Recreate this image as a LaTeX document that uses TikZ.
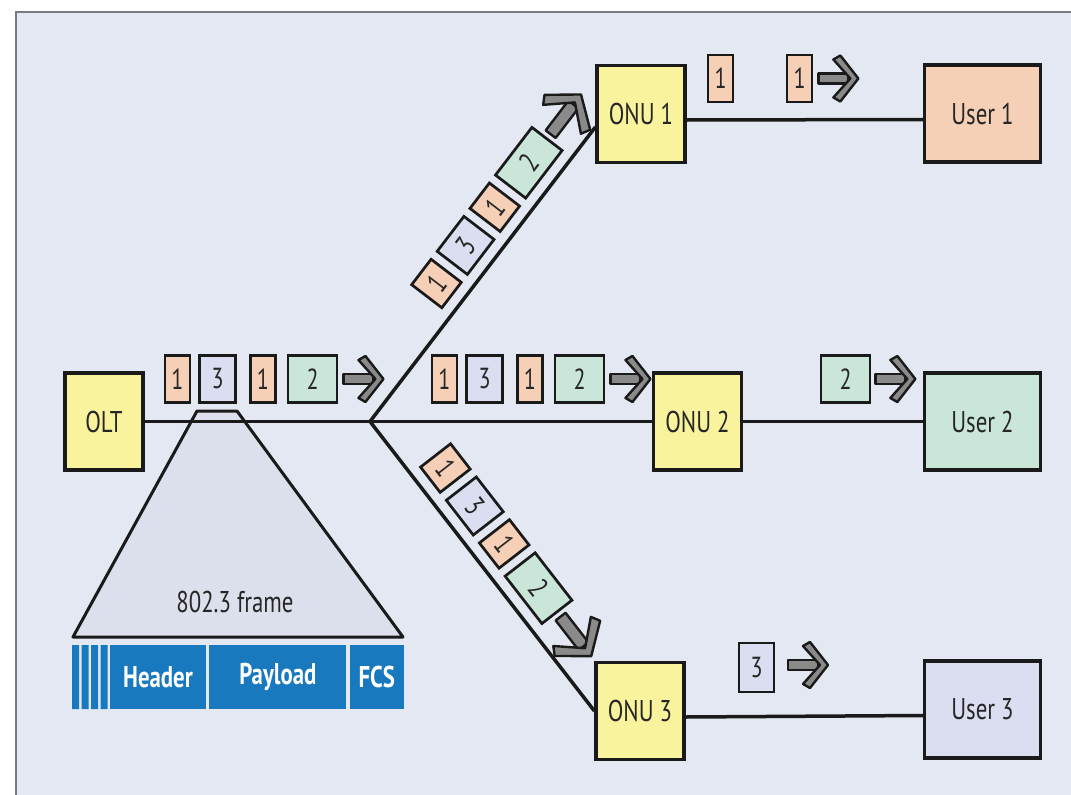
\documentclass[tikz,border=0pt]{standalone}
\usepackage{fontspec}
\setmainfont{PT Sans}[FakeStretch=0.76]
\usetikzlibrary{positioning}
\definecolor{ink}{HTML}{1A1A1A}
\definecolor{txt}{HTML}{262626}
\definecolor{panel}{HTML}{E4E8F2}
\definecolor{rim}{HTML}{7A7A7A}
\definecolor{lemon}{HTML}{FAF39D}
\definecolor{peach}{HTML}{F5CFB6}
\definecolor{mint}{HTML}{C9E6D8}
\definecolor{lilac}{HTML}{DADEF0}
\definecolor{framefill}{HTML}{DCDFEC}
\definecolor{barblue}{HTML}{1879BE}
\definecolor{arrowgray}{HTML}{8A8A8A}
\newcommand\boxfont{\fontsize{30}{32}\selectfont}
\newcommand\pktfont{\fontsize{29}{31}\selectfont}
\tikzset{
  unit/.style={draw=ink,line width=3.2pt,fill=lemon,minimum width=88,
    minimum height=97,inner sep=0pt,font=\boxfont,text=txt},
  pkt/.style={draw=ink,line width=2.7pt,minimum height=47,inner sep=0pt,
    font=\pktfont,text=txt},
  pa/.style={pkt,fill=peach,minimum width=25},
  pb/.style={pkt,fill=mint,minimum width=49},
  pc/.style={pkt,fill=lilac,minimum width=36},
  da/.style={pa,minimum width=32,minimum height=38},
  db/.style={pb,minimum width=60,minimum height=38},
  dc/.style={pc,minimum width=44,minimum height=38},
  link/.style={draw=ink,line width=3.5pt},
  arw/.style={fill=arrowgray,draw=ink,line width=2.4pt,line join=round},
  fwd/.pic={
    \path[arw] (0,-5) rectangle (30,5);
    \path[arw] (22,-23) -- (40,0) -- (22,23) -- (15,19) -- (32,0) -- (15,-19) -- cycle;
  },
  field/.style={fill=barblue,text=white,font=\boxfont\bfseries,
    minimum height=64,inner sep=0pt}
}
\begin{document}
\begin{tikzpicture}[x=1pt,y=-1pt]
  \useasboundingbox (0,0) rectangle (1071,795);
  \fill[panel] (16,12) rectangle (1080,800);
  \draw[rim,line width=2.5pt] (16,800) -- (16,12) -- (1080,12);

  % frame under the feeder
  \draw[ink,line width=3pt,fill=framefill,line join=round]
    (197,411) -- (237,411) -- (403,637) -- (73,637) -- cycle;
  \node[font=\boxfont,text=txt] (frm) at (235,602) {802.3 frame};
  \fill[barblue] (72,645) rectangle ++(7,64) (81.5,645) rectangle ++(7,64)
    (91,645) rectangle ++(7,64) (100.5,645) rectangle ++(7,64);
  \node[field,minimum width=96] (hdr) at (158,677) {Header};
  \node[field,minimum width=137,right=3pt of hdr] (pay) {Payload};
  \node[field,minimum width=54,right=3pt of pay] (fcs) {FCS};

  % boxes
  \node[unit,minimum width=78] (olt) at (104,421.5) {OLT};
  \node[unit] (onu1) at (641,114) {ONU 1};
  \node[unit] (onu2) at (697.5,421.5) {ONU 2};
  \node[unit] (onu3) at (640,711) {ONU 3};
  \node[unit,fill=peach,minimum width=116] (usr1) at (982.5,113.5) {User 1};
  \node[unit,fill=mint,minimum width=116] (usr2) at (982.5,421.5) {User 2};
  \node[unit,fill=lilac,minimum width=116] (usr3) at (982.5,709.5) {User 3};
  \coordinate (split) at (370,421.5);

  \path[link] (olt) -- (split);
  \path[link] (split) -- ([yshift=-13pt]onu1.west);
  \path[link] (split) -- (onu2);
  \path[link] (split) -- (onu3.west);
  \path[link] ([yshift=-6pt]onu1.east) -- ([yshift=-6pt]usr1.west);
  \path[link] (onu2) -- (usr2);
  \path[link] ([yshift=-6pt]onu3.east) -- ([yshift=-6pt]usr3.west);

  % downstream frames
  \node[pa] (h1) at (177.5,379) {1};
  \node[pc,right=7pt of h1] (h2) {3};
  \node[pa,right=12pt of h2] (h3) {1};
  \node[pb,right=10pt of h3] (h4) {2};
  \pic at ([xshift=5pt]h4.east) {fwd};

  \node[pa] (m1) at (444.5,379) {1};
  \node[pc,right=7pt of m1] (m2) {3};
  \node[pa,right=12pt of m2] (m3) {1};
  \node[pb,right=10pt of m3] (m4) {2};
  \pic at ([xshift=5pt]m4.east) {fwd};

  \begin{scope}[shift={(split)},rotate=52.6,transform shape]
    \node[da] (u1) at (150,-31) {1};
    \node[dc] (u2) at (198,-31) {3};
    \node[da] (u3) at (246,-31) {1};
    \node[db] (u4) at (302,-31) {2};
    \pic[scale=1.25] at (338,-31) {fwd};
  \end{scope}

  \begin{scope}[shift={(split)},rotate=-52.2,transform shape]
    \node[da] (l1) at (83,-31) {1};
    \node[dc] (l2) at (131,-31) {3};
    \node[da] (l3) at (179,-31) {1};
    \node[db] (l4) at (235,-31) {2};
    \pic[scale=1.25] at (271,-31) {fwd};
  \end{scope}

  % filtered at the ONUs
  \node[pa] (k1) at (720.5,78.5) {1};
  \node[pa] (k2) at (799.5,78.5) {1};
  \pic at ([xshift=5pt]k2.east) {fwd};
  \node[pb] (k3) at (845.5,379) {2};
  \pic at ([xshift=4pt]k3.east) {fwd};
  \node[pc,minimum width=35,minimum height=49] (k4) at (756.5,667.5) {3};
  \pic at (788,665) {fwd};
\end{tikzpicture}
\end{document}
